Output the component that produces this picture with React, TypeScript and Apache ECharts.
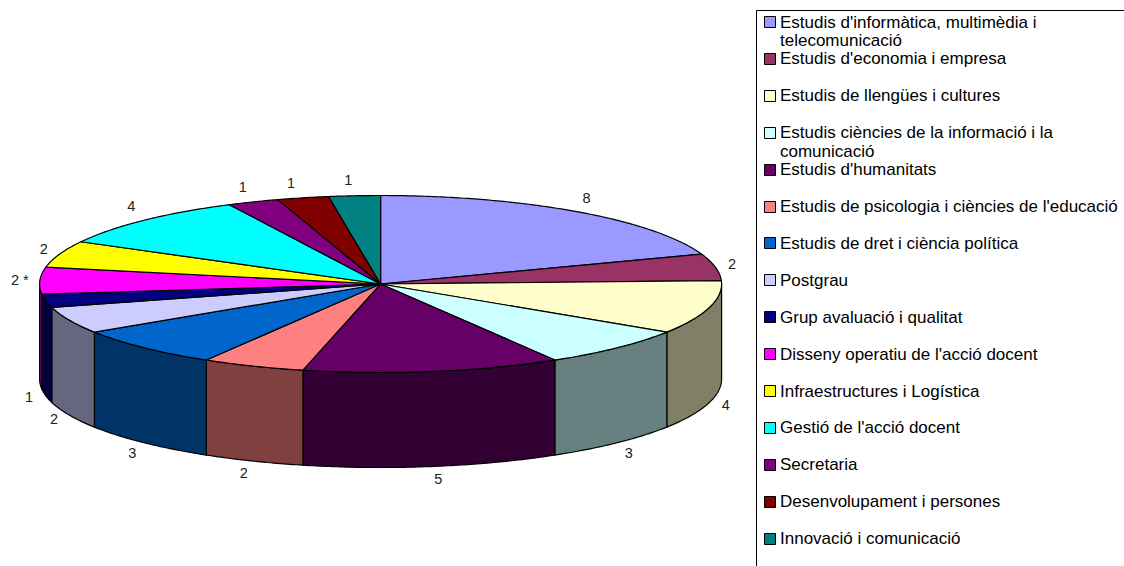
import React, { useEffect, useRef } from "react";
import * as echarts from "echarts";

const categories = [
  "Estudis d'informàtica, multimèdia i\ntelecomunicació",
  "Estudis d'economia i empresa",
  "Estudis de llengües i cultures",
  "Estudis ciències de la informació i la\ncomunicació",
  "Estudis d'humanitats",
  "Estudis de psicologia i ciències de l'educació",
  "Estudis de dret i ciència política",
  "Postgrau",
  "Grup avaluació i qualitat",
  "Disseny operatiu de l'acció docent",
  "Infraestructures i Logística",
  "Gestió de l'acció docent",
  "Secretaria",
  "Desenvolupament i persones",
  "Innovació i comunicació",
];
const values = [8, 2, 4, 3, 5, 2, 3, 2, 1, 2, 2, 4, 1, 1, 1];
const valueLabels = ["8", "2", "4", "3", "5", "2", "3", "2", "1", "2 *", "2", "4", "1", "1", "1"];
const topColors = ["#9999FF", "#993366", "#FFFFCC", "#CCFFFF", "#660066", "#FF8080", "#0066CC", "#CCCCFF", "#000080", "#FF00FF", "#FFFF00", "#00FFFF", "#800080", "#800000", "#008080"];
const sideColors = ["#4D4D80", "#4D1A33", "#808066", "#668080", "#330033", "#804040", "#003366", "#666680", "#000040", "#800080", "#808000", "#008080", "#400040", "#400000", "#004040"];

const CX = 380.6, CY = 284, RX = 341, RY = 88.5, DEPTH = 95;
const LABEL_RX = 358, LABEL_RY = 105;
const LABEL_NUDGE = [[0, 0], [0, 0], [0, 0], [0, 0], [3, -2], [-3, -1], [0, 0], [0, -1], [0, 0], [-3, 0], [0, 0], [-1, -2], [-4, 0], [-8, 1], [-5, 1]];
const FONT = '"Liberation Sans", Arial, sans-serif';
const LEGEND_LINE = 18.4;

const total = values.reduce((a, b) => a + b, 0);
const startOf = (i: number) => values.slice(0, i).reduce((a, b) => a + b, 0) / total * Math.PI * 2;
const ell = (a: number, dy = 0): number[] => [CX + RX * Math.sin(a), CY - RY * Math.cos(a) + dy];
const arcPoints = (a0: number, a1: number, dy = 0) => {
  const n = Math.max(2, Math.ceil((a1 - a0) / 0.01));
  const pts: number[][] = [];
  for (let k = 0; k <= n; k++) pts.push(ell(a0 + (a1 - a0) * k / n, dy));
  return pts;
};

const seriesData = values.map((v, i) => ({ value: v, name: categories[i].replace("\n", " ") }));

const renderSide = (p: any) => {
  const i = p.dataIndex;
  const a0 = Math.max(startOf(i), Math.PI / 2);
  const a1 = Math.min(startOf(i + 1), Math.PI * 1.5);
  if (a1 <= a0) return { type: "group", children: [] };
  return {
    type: "polygon",
    shape: { points: [...arcPoints(a0, a1), ...arcPoints(a0, a1, DEPTH).reverse()] },
    style: { fill: sideColors[i], stroke: "#000", lineWidth: 1.2, lineJoin: "round" },
  };
};
const renderTop = (p: any) => {
  const i = p.dataIndex;
  return {
    type: "polygon",
    shape: { points: [[CX, CY], ...arcPoints(startOf(i), startOf(i + 1))] },
    style: { fill: topColors[i], stroke: "#000", lineWidth: 1.2, lineJoin: "round" },
  };
};
const renderLabel = (p: any) => {
  const i = p.dataIndex;
  const m = (startOf(i) + startOf(i + 1)) / 2;
  const front = m > Math.PI / 2 && m < Math.PI * 1.5;
  return {
    type: "text",
    x: CX + LABEL_RX * Math.sin(m) + LABEL_NUDGE[i][0],
    y: CY - LABEL_RY * Math.cos(m) + (front ? DEPTH - 2 : 0) + LABEL_NUDGE[i][1],
    style: { text: valueLabels[i], font: `14.5px ${FONT}`, fill: "#222", align: "center", verticalAlign: "middle" },
  };
};

const legendGraphics = () => {
  const out: any[] = [
    { type: "line", shape: { x1: 756.5, y1: 10.5, x2: 1124, y2: 10.5 }, style: { stroke: "#000", lineWidth: 1 } },
    { type: "line", shape: { x1: 756.5, y1: 10.5, x2: 756.5, y2: 566 }, style: { stroke: "#000", lineWidth: 1 } },
  ];
  categories.forEach((c, i) => {
    const y = 22 + 36.9 * i;
    out.push({ type: "rect", shape: { x: 764.5, y: Math.round(y) - 5.5, width: 11, height: 11 }, style: { fill: topColors[i], stroke: "#000", lineWidth: 1 } });
    out.push({ type: "text", x: 780, y: y - LEGEND_LINE / 2, style: { text: c, font: `17px ${FONT}`, fill: "#000", lineHeight: LEGEND_LINE, align: "left", verticalAlign: "top" } });
  });
  return out;
};

export default function App() {
  const ref = useRef<HTMLDivElement>(null);
  useEffect(() => {
    const chart = echarts.init(ref.current!, undefined, { renderer: "svg" });
    const common = { type: "custom", coordinateSystem: "none", data: seriesData, silent: true, clip: false };
    chart.setOption({
      animation: false,
      backgroundColor: "#fff",
      graphic: legendGraphics(),
      series: [
        { ...common, z: 1, renderItem: renderSide },
        { ...common, z: 2, renderItem: renderTop },
        { ...common, z: 3, renderItem: renderLabel },
      ],
    });
    return () => chart.dispose();
  }, []);
  return <div ref={ref} style={{ position: "absolute", left: 0, top: 0, width: 1124, height: 566 }} />;
}
